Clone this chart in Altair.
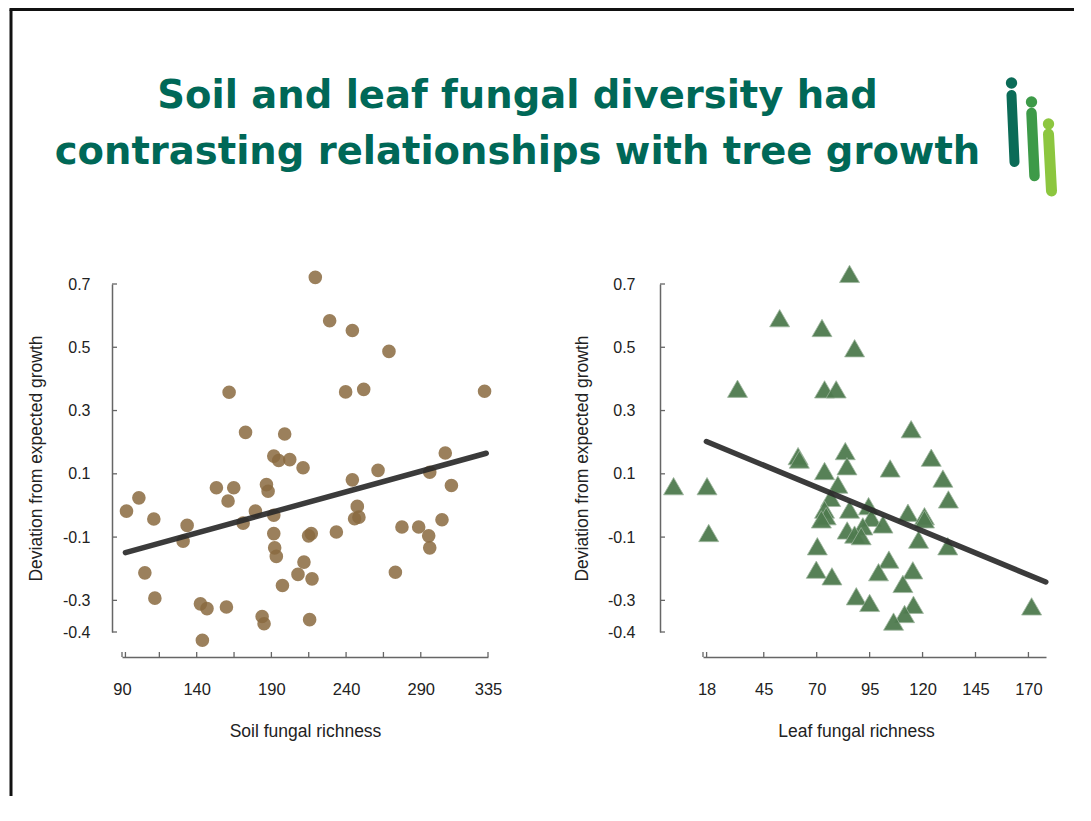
import altair as alt
import pandas as pd

TITLE_LINES = ["Soil and leaf fungal diversity had",
               "contrasting relationships with tree growth"]

SOIL_X = [93.0, 101.3, 111.3, 105.3, 112.0, 133.6, 130.9, 142.5, 146.9, 143.8,
          159.9, 153.2, 164.8, 161.0, 161.7, 171.1, 172.7, 179.3, 186.7, 187.8,
          183.8, 185.1, 191.6, 191.6, 192.2, 193.3, 191.6, 194.9, 198.9, 202.3,
          197.4, 211.2, 211.8, 207.8, 217.2, 214.9, 216.7, 215.6, 219.4, 229.0,
          233.5, 239.7, 244.2, 244.2, 247.5, 245.7, 248.6, 251.8, 261.4, 268.7,
          273.0, 277.4, 288.6, 295.3, 296.0, 296.0, 304.2, 306.4, 310.5, 332.7]
SOIL_Y = [-0.018, 0.024, -0.043, -0.213, -0.293, -0.063, -0.113, -0.311, -0.326, -0.426,
          -0.321, 0.056, 0.056, 0.014, 0.358, -0.056, 0.231, -0.018, 0.066, 0.045,
          -0.351, -0.374, -0.031, -0.089, -0.134, -0.161, 0.156, 0.142, 0.226, 0.145,
          -0.253, 0.119, -0.179, -0.218, -0.232, -0.096, -0.089, -0.361, 0.721, 0.584,
          -0.084, 0.359, 0.553, 0.081, -0.003, -0.042, -0.037, 0.367, 0.111, 0.487,
          -0.211, -0.068, -0.068, -0.096, -0.134, 0.105, -0.045, 0.166, 0.063, 0.361]

LEAF_X = [2.4, 18.2, 19.0, 32.6, 52.5, 61.2, 61.8, 72.5, 73.7, 73.7,
          79.2, 85.5, 87.9, 83.5, 84.3, 80.0, 76.6, 73.7, 74.5, 72.2,
          85.5, 94.5, 95.8, 91.8, 84.4, 87.9, 91.0, 101.3, 104.7, 113.1,
          114.6, 120.9, 120.9, 118.1, 124.1, 129.6, 132.2, 131.9, 70.3, 69.8,
          77.2, 104.1, 99.2, 115.4, 110.7, 88.7, 95.0, 115.7, 111.5, 106.3, 171.5]
LEAF_Y = [0.061, 0.061, -0.087, 0.369, 0.592, 0.156, 0.145, 0.561, 0.109, 0.367,
          0.367, 0.732, 0.497, 0.172, 0.124, 0.066, 0.024, -0.013, -0.034, -0.044,
          -0.013, -0.002, -0.039, -0.066, -0.079, -0.092, -0.097, -0.060, 0.117, -0.023,
          0.241, -0.034, -0.044, -0.108, 0.151, 0.085, 0.019, -0.129, -0.129, -0.203,
          -0.224, -0.171, -0.211, -0.205, -0.248, -0.287, -0.308, -0.314, -0.343, -0.367, -0.319]

SOIL_FIT_X = [92.3, 333.8]
SOIL_FIT_Y = [-0.149, 0.165]
LEAF_FIT_X = [17.9, 178.2]
LEAF_FIT_Y = [0.202, -0.242]

Y_TICKS = [0.7, 0.5, 0.3, 0.1, -0.1, -0.3, -0.4]
SOIL_X_LABELS = [90, 140, 190, 240, 290, 335]
SOIL_X_TICKS = [90, 92.3, 115, 140, 165, 190, 215, 240, 265, 290, 335]
LEAF_X_LABELS = [18, 45, 70, 95, 120, 145, 170]
LEAF_X_TICKS = [16.3, 18, 45, 70, 95, 120, 145, 170]

Y_TITLE = "Deviation from expected growth"
SOIL_TITLE = "Soil fungal richness"
LEAF_TITLE = "Leaf fungal richness"

AXIS_FONT = "Liberation Sans"
YLABEL_EXPR = "datum.value < 0 ? '-' + format(-datum.value, '.1f') : format(datum.value, '.1f')"

ONE = pd.DataFrame({"a": [0]})


def panel(xs, ys, fx, fy, xdom, xlabels, xticks, xtitle, yoff, ylabpad, ytitlepad,
          width, mark, title_x=None):
    df = pd.DataFrame({"x": xs, "y": ys})
    fit = pd.DataFrame({"x": fx, "y": fy})
    xsc = alt.Scale(domain=xdom, nice=False, zero=False)
    ysc = alt.Scale(domain=[-0.4, 0.7], nice=False, zero=False)
    xaxis_kw = dict(values=xlabels, title=xtitle, offset=25, ticks=False, grid=False,
                    labelPadding=24, titlePadding=25, format="d",
                    labelFontSize=16.5, titleFontSize=17.5, titleFontWeight="normal",
                    labelColor="#222", titleColor="#222", labelFont=AXIS_FONT,
                    titleFont=AXIS_FONT, domainColor="#666", domainWidth=1.5,
                    labelFlush=False)
    if title_x is not None:
        xaxis_kw["titleX"] = title_x
    xaxis = alt.Axis(**xaxis_kw)
    yaxis = alt.Axis(values=Y_TICKS, title=Y_TITLE, offset=yoff, ticks=False, grid=False,
                     labelPadding=ylabpad, titlePadding=ytitlepad, labelExpr=YLABEL_EXPR,
                     labelFontSize=16, titleFontSize=17.5, titleFontWeight="normal",
                     labelColor="#222", titleColor="#222", labelFont=AXIS_FONT,
                     titleFont=AXIS_FONT, domainColor="#666", domainWidth=1.5,
                     labelFlush=False)
    X = lambda: alt.X("x:Q", scale=xsc, axis=xaxis)
    Y = lambda: alt.Y("y:Q", scale=ysc, axis=yaxis)
    pts = alt.Chart(df).mark_point(**mark).encode(x=X(), y=Y())
    line = alt.Chart(fit).mark_line(color="#2a2a2a", strokeWidth=5.5, opacity=0.92,
                                    strokeCap="round").encode(x=X(), y=Y())
    ytk = alt.Chart(pd.DataFrame({"y": Y_TICKS})).mark_rule(color="#666", strokeWidth=1.3).encode(
        y=Y(), x=alt.value(-yoff), x2=alt.value(-yoff + 5),
    )
    xtk = alt.Chart(pd.DataFrame({"x": xticks})).mark_rule(color="#666", strokeWidth=1.3).encode(
        x=X(), y=alt.value(348 + 25), y2=alt.value(348 + 20),
    )
    return alt.layer(pts, line, ytk, xtk).properties(width=width, height=348)


left = panel(SOIL_X, SOIL_Y, SOIL_FIT_X, SOIL_FIT_Y, [90, 335], SOIL_X_LABELS, SOIL_X_TICKS,
             SOIL_TITLE, 10, 22, 17, 366,
             dict(filled=True, shape="circle", size=185, color="#8a6a40", opacity=0.85))
right = panel(LEAF_X, LEAF_Y, LEAF_FIT_X, LEAF_FIT_Y, [16.3, 178.3], LEAF_X_LABELS,
              LEAF_X_TICKS, LEAF_TITLE, 43, 25, 16, 343,
              dict(filled=True, shape="triangle-up", size=400, color="#4f7b4f", opacity=0.95,
                   stroke="#9db59d", strokeWidth=0.8),
              title_x=153)

# slide decorations: title, frame lines, logo (placed relative to left panel)
title = alt.Chart(ONE).mark_text(text=TITLE_LINES, font="DejaVu Sans", fontWeight="bold",
                                 fontSize=38.5, color="#006857", align="center",
                                 baseline="alphabetic", lineHeight=56).encode(
    x=alt.value(395.5), y=alt.value(-176))
frame_v = alt.Chart(ONE).mark_rule(color="#111", strokeWidth=3).encode(
    x=alt.value(-111), y=alt.value(-274.5), y2=alt.value(512))
frame_h = alt.Chart(ONE).mark_rule(color="#111", strokeWidth=3).encode(
    x=alt.value(-112.5), x2=alt.value(952), y=alt.value(-274.5))

LOGO_COLORS = ["#0b6b57", "#3d9a48", "#8cc63f"]
logo_layers = []
for (cx, cy, y1, y2, xb, w), col in zip(
        [(889.5, -201, -189, -122, 892.5, 10), (909.5, -182, -171, -108, 912.5, 10.5),
         (926.5, -160, -150, -93, 929.5, 11)], LOGO_COLORS):
    logo_layers.append(alt.Chart(ONE).mark_rule(color=col, strokeWidth=w, strokeCap="round").encode(
        x=alt.value(cx), x2=alt.value(xb), y=alt.value(y1), y2=alt.value(y2)))
    logo_layers.append(alt.Chart(ONE).mark_point(filled=True, shape="circle", size=130,
                                                 color=col, opacity=1).encode(
        x=alt.value(cx), y=alt.value(cy)))

left_full = alt.layer(left, title, frame_v, frame_h, *logo_layers)

chart = alt.hconcat(left_full, right, spacing=215, bounds="flush").properties(
    padding=0, background="white"
).configure_view(stroke=None)

chart.save("out.html", embed_options={"renderer": "svg", "actions": False})
